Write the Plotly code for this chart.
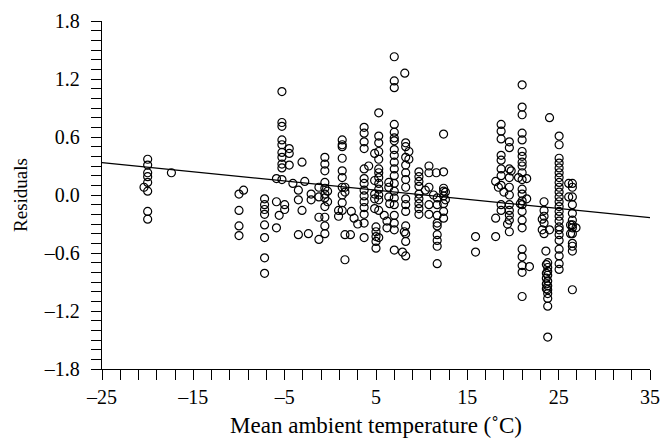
import plotly.graph_objects as go

# Mean ambient temperature (°C) of each vertical group of points, and the residuals in it
col_temp = [-20.0, -20.4, -17.4, -10.0, -9.5, -7.2, -5.9, -5.6, -5.0, -5.3, -4.5, -4.1,
            -3.5, -3.1, -2.8, -2.4, -2.1, -1.25, -0.6, -0.3, 0.9, 1.3, 1.6, 2.2, 2.3,
            2.6, 3.0, 3.7, 4.2, 4.85, 5.0, 5.3, 5.9, 6.2, 6.4, 6.5, 7.0, 8.15, 8.25,
            8.6, 7.9, 8.1, 9.7, 10.4, 10.8, 11.3, 11.6, 11.7, 12.4, 12.6, 15.9, 18.1,
            18.4, 18.7, 19.0, 19.4, 19.6, 19.8, 20.6, 20.8, 21.0, 21.5, 21.8, 23.4,
            23.2, 23.6, 23.8, 23.65, 24.0, 25.05, 26.1, 26.5, 26.3, 26.9]
col_resid = [
    [0.37, 0.31, 0.23, 0.19, 0.13, 0.04, -0.17, -0.25],
    [0.08],
    [0.23],
    [0.01, -0.16, -0.32, -0.42],
    [0.05],
    [-0.04, -0.10, -0.15, -0.20, -0.31, -0.44, -0.65, -0.81],
    [-0.07, -0.34, 0.17],
    [-0.21],
    [-0.10, -0.15],
    [1.07, 0.75, 0.71, 0.57, 0.52, 0.44, 0.39, 0.32, 0.28, 0.16],
    [0.48, 0.43, 0.31],
    [0.12],
    [0.05, -0.05, -0.41],
    [0.34, -0.16],
    [0.14],
    [-0.40],
    [0.01, -0.05],
    [0.08, -0.02, -0.23, -0.46],
    [0.39, 0.32, 0.25, 0.13, 0.07, 0.01, -0.03, -0.12, -0.23, -0.32, -0.40],
    [0.04, -0.07],
    [-0.16, -0.22],
    [0.57, 0.52, 0.50, 0.38, 0.25, 0.18, 0.08, 0.00, -0.08, -0.16],
    [0.08, -0.41, -0.67, 0.03],
    [-0.41],
    [-0.17],
    [-0.24],
    [-0.30],
    [0.70, 0.64, 0.55, 0.48, 0.27, 0.17, 0.12, 0.05, -0.01, -0.07, -0.13, -0.20, -0.29, -0.44],
    [0.30],
    [0.43, -0.14, -0.04, 0.01, 0.15],
    [-0.33, -0.38, -0.43, -0.48, -0.55],
    [0.85, 0.61, 0.54, 0.45, 0.37, 0.27, 0.23, 0.18, 0.12, 0.06, 0.00, -0.05, -0.16, -0.44],
    [-0.21],
    [-0.27, -0.34],
    [0.13, 0.08, -0.02],
    [-0.09],
    [1.43, 1.18, 1.11, 0.73, 0.65, 0.59, 0.56, 0.47, 0.41, 0.34, 0.27, 0.20, 0.12, 0.04,
     -0.03, -0.10, -0.21, -0.29, -0.36, -0.57],
    [1.26],
    [0.54, 0.50, 0.39, 0.31, 0.23, 0.16, 0.08, -0.04, -0.10, -0.17, -0.32, -0.40, -0.48, -0.63],
    [0.45, 0.37],
    [-0.59],
    [-0.38],
    [0.24, 0.19, 0.14, 0.09, 0.01, -0.04, -0.09, -0.14, -0.20],
    [0.05],
    [0.30, 0.23, 0.08, -0.10, -0.20],
    [0.00],
    [0.23],
    [-0.03, -0.10, -0.21, -0.29, -0.32, -0.41, -0.47, -0.53, -0.71],
    [0.63, 0.24, 0.07, 0.04, -0.01, -0.09, -0.17, -0.24],
    [0.03, -0.05],
    [-0.43, -0.59],
    [-0.43, -0.24, 0.14],
    [0.08],
    [0.73, 0.66, 0.58, 0.41, 0.36, 0.27, 0.20, 0.10, -0.10, -0.16],
    [0.03],
    [-0.30],
    [0.55, 0.49, 0.27, 0.18, 0.08, 0.00, -0.10, -0.16, -0.21, -0.26, -0.38],
    [0.25],
    [0.18],
    [-0.09],
    [1.14, 0.91, 0.83, 0.64, 0.57, 0.45, 0.40, 0.34, 0.30, 0.23, 0.16, 0.06, 0.01, -0.06,
     -0.10, -0.17, -0.26, -0.34, -0.56, -0.64, -0.73, -0.80, -1.05],
    [-0.04, 0.17],
    [-0.74],
    [-0.07, -0.16, -0.22, -0.29, -0.40],
    [-0.25, -0.36],
    [-0.58],
    [-0.70, -0.75, -0.79, -0.83, -0.89, -0.94, -0.98, -1.02, -1.07, -1.15, -1.47],
    [-0.72, -0.81, -0.86, -0.92, -0.97],
    [0.80, -0.36],
    [0.61, 0.52, 0.38, 0.33, 0.28, 0.23, 0.18, 0.13, 0.08, 0.03, -0.02, -0.07, -0.12, -0.17,
     -0.22, -0.27, -0.33, -0.36, -0.41, -0.47, -0.56, -0.63, -0.71, -0.77],
    [0.12, -0.02],
    [0.12, 0.08, -0.02, -0.10, -0.19, -0.26, -0.31, -0.34, -0.40, -0.50, -0.53, -0.58, -0.98],
    [-0.31, -0.40],
    [-0.34],
]

# fitted regression line
fit_intercept = 0.0975
fit_slope = -0.0095

x_ticks = [-25, -15, -5, 5, 15, 25, 35]
x_ticktext = ["\u201325", "\u201315", "\u20135", "5", "15", "25", "35"]
y_ticks = [1.8, 1.2, 0.6, 0.0, -0.6, -1.2, -1.8]
y_ticktext = ["1.8", "1.2", "0.6", "0.0", "\u20130.6", "\u20131.2", "\u20131.8"]

xs, ys = [], []
for t, rs in zip(col_temp, col_resid):
    for r in rs:
        xs.append(t)
        ys.append(r)

x_range = [-25, 35]
line_x = x_range
line_y = [fit_intercept + fit_slope * v for v in line_x]

fig = go.Figure()
fig.add_trace(go.Scatter(
    x=xs, y=ys, mode="markers",
    marker=dict(symbol="circle-open", size=8, color="black", line=dict(width=1.2, color="black")),
    showlegend=False, cliponaxis=False,
))
fig.add_trace(go.Scatter(
    x=line_x, y=line_y, mode="lines",
    line=dict(color="black", width=1.2), showlegend=False,
))

family = "Liberation Serif, Times New Roman, serif"
tick_font = dict(family=family, size=20, color="black")
xtitle_font = dict(family=family, size=23, color="black")
ytitle_font = dict(family=family, size=19, color="black")
fig.update_layout(
    width=670, height=443,
    margin=dict(l=102, r=10, t=16, b=73),
    paper_bgcolor="white", plot_bgcolor="white",
    font=tick_font,
)
fig.update_xaxes(
    range=x_range, tickvals=x_ticks, ticktext=x_ticktext, tickfont=tick_font,
    showline=True, linecolor="black", linewidth=1.3,
    ticks="outside", ticklen=10, tickwidth=1.2, tickcolor="black",
    minor=dict(tick0=-25, dtick=2, ticks="outside", ticklen=10, tickwidth=1.2, tickcolor="black", showgrid=False),
    showgrid=False, zeroline=False,
    title=dict(text="Mean ambient temperature (\u02daC)", font=xtitle_font, standoff=9),
)
fig.update_yaxes(
    range=[-1.8, 1.8], tickvals=y_ticks, ticktext=y_ticktext, tickfont=tick_font,
    ticklabelstandoff=7,
    showline=True, linecolor="black", linewidth=1.3,
    ticks="outside", ticklen=10, tickwidth=1.2, tickcolor="black",
    minor=dict(tick0=-1.8, dtick=0.1, ticks="outside", ticklen=10, tickwidth=1.2, tickcolor="black", showgrid=False),
    showgrid=False, zeroline=False,
    title=dict(text="Residuals", font=ytitle_font, standoff=11),
)

fig.write_html("out.html")
